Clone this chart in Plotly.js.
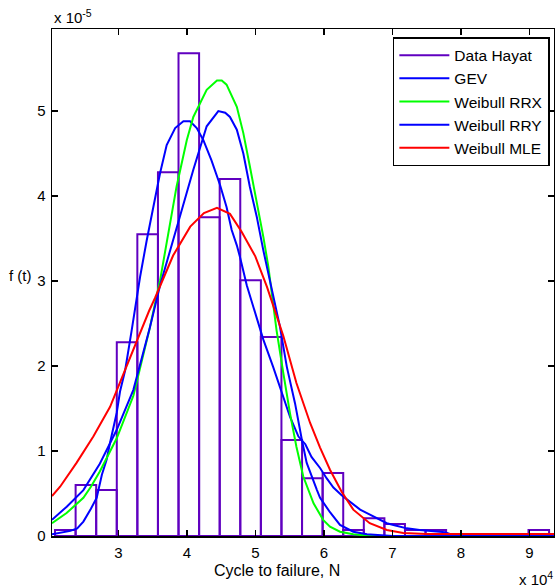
<!DOCTYPE html>
<html><head><meta charset="utf-8">
<script src="https://cdn.plot.ly/plotly-3.0.1.min.js"></script>
<style>html,body{margin:0;padding:0;background:#fff}#chart{width:555px;height:586px}</style>
</head><body><div id="chart"></div>
<script>
// x in units of 1e4 cycles, y in units of 1e-5
const binCenters = [2.226,2.527,2.827,3.128,3.428,3.729,4.029,4.330,4.630,4.931,5.231,5.532,5.832,6.133,6.433,6.734,7.034,7.335,7.635,7.936,8.236,8.537,8.837,9.138];
const binWidth = 0.3005;
const histDensity = [0.07,0.60,0.54,2.28,3.55,4.28,5.68,3.75,4.20,3.01,2.34,1.13,0.68,0.74,0.07,0.21,0.14,0.07,0.07,0,0,0,0,0.07];

const gevX = [2.032,2.15,2.30,2.40,2.49,2.60,2.685,2.76,2.83,2.88,2.977,3.025,3.10,3.195,3.277,3.318,3.415,3.51,3.61,3.706,3.83,3.95,4.047,4.145,4.24,4.36,4.485,4.58,4.655,4.73,4.777,4.875,5.0,5.117,5.26,5.385,5.507,5.63,5.73,5.82,5.945,6.04,6.14,6.26,6.38,6.53,6.63,6.77,6.92,7.06,7.21,7.40,7.60,7.77,7.89,8.0,9.36];
const gevY = [0.02,0.04,0.06,0.09,0.17,0.32,0.45,0.72,0.90,1.10,1.45,1.70,1.95,2.42,2.85,3.05,3.48,3.87,4.27,4.60,4.80,4.88,4.88,4.80,4.66,4.42,4.13,3.87,3.60,3.42,3.28,2.95,2.62,2.31,1.99,1.70,1.40,1.17,1.08,0.93,0.80,0.68,0.57,0.48,0.40,0.31,0.27,0.21,0.15,0.12,0.09,0.07,0.06,0.045,0.01,0,0];

const rrxX = [2.032,2.245,2.49,2.60,2.73,2.977,3.22,3.46,3.61,3.755,3.85,4.0,4.095,4.29,4.44,4.51,4.58,4.73,4.825,4.92,5.02,5.117,5.19,5.24,5.31,5.41,5.507,5.60,5.70,5.85,5.99,6.09,6.236,6.43,6.7,9.36];
const rrxY = [0.15,0.27,0.45,0.58,0.76,1.15,1.65,2.45,3.01,3.68,4.11,4.66,4.93,5.25,5.36,5.36,5.31,5.05,4.74,4.35,3.95,3.52,3.17,2.86,2.42,1.91,1.44,1.05,0.70,0.385,0.19,0.11,0.05,0.02,0,0];

const rryX = [2.032,2.247,2.49,2.73,2.977,3.22,3.46,3.61,3.85,4.095,4.29,4.46,4.56,4.63,4.73,4.825,4.92,5.02,5.117,5.215,5.26,5.36,5.46,5.58,5.68,5.75,5.90,5.945,6.09,6.236,6.43,6.63,7.0,9.36];
const rryY = [0.19,0.345,0.54,0.85,1.25,1.72,2.45,2.95,3.62,4.31,4.82,5.0,4.98,4.93,4.78,4.50,4.11,3.76,3.36,3.0,2.80,2.46,1.99,1.56,1.13,0.86,0.54,0.45,0.28,0.13,0.05,0.02,0,0];

const mleX = [2.032,2.15,2.39,2.635,2.88,3.00,3.27,3.45,3.536,3.80,4.05,4.25,4.44,4.63,4.80,5.00,5.17,5.41,5.60,5.80,5.945,6.09,6.26,6.43,6.67,6.92,7.16,7.5,9.36];
const mleY = [0.47,0.58,0.86,1.17,1.52,1.76,2.28,2.65,2.80,3.30,3.64,3.80,3.86,3.79,3.58,3.29,2.93,2.35,1.80,1.33,1.04,0.78,0.52,0.31,0.15,0.07,0.035,0.025,0.025];

const seriesNames = ['Data Hayat','GEV','Weibull RRX','Weibull RRY','Weibull MLE'];
const purple = 'rgb(96,0,192)';
const FONT = 'Liberation Sans, Arial, Helvetica, sans-serif';

const traces = [
  {type:'bar', x:binCenters, y:histDensity, width:binWidth, showlegend:false,
   marker:{color:'rgba(0,0,0,0)', line:{color:purple, width:2}}, hoverinfo:'skip'},
  {type:'scatter', mode:'lines', x:[null], y:[null], name:seriesNames[0], line:{color:purple, width:2}},
  {type:'scatter', mode:'lines', x:gevX, y:gevY, name:seriesNames[1], line:{color:'#0000ff', width:2}},
  {type:'scatter', mode:'lines', x:rrxX, y:rrxY, name:seriesNames[2], line:{color:'#00ff00', width:2}},
  {type:'scatter', mode:'lines', x:rryX, y:rryY, name:seriesNames[3], line:{color:'#0000ff', width:2}},
  {type:'scatter', mode:'lines', x:mleX, y:mleY, name:seriesNames[4], line:{color:'#ff0000', width:2}}
];

const axisCommon = {
  ticks:'inside', ticklen:6, tickwidth:1.5, tickcolor:'#000',
  showline:true, linecolor:'#000', linewidth:1.5, mirror:'allticks',
  showgrid:false, zeroline:false,
  tickfont:{family:FONT, size:15, color:'#000'}
};

const layout = {
  width:555, height:586,
  margin:{l:52, r:1, t:29, b:50, pad:0},
  paper_bgcolor:'#fff', plot_bgcolor:'#fff',
  font:{family:FONT, size:15, color:'#000'},
  bargap:0,
  xaxis:Object.assign({}, axisCommon, {range:[2.032,9.36], tick0:0, dtick:1, ticklabelstandoff:2}),
  yaxis:Object.assign({}, axisCommon, {range:[0,5.965], tick0:0, dtick:1, ticklabelstandoff:2}),
  legend:{x:0.679, y:0.984, xanchor:'left', yanchor:'top', bgcolor:'#fff',
          bordercolor:'#000', borderwidth:1.5, font:{family:FONT, size:15.5, color:'#000'},
          itemwidth:50, tracegroupgap:0},
  annotations:[
    {text:'x 10<sup>-5</sup>', xref:'paper', yref:'paper', x:0, y:1.001, xanchor:'left', yanchor:'bottom', showarrow:false, font:{family:FONT, size:15}},
    {text:'x 10<sup>4</sup>', xref:'paper', yref:'paper', x:1.002, y:-0.062, xanchor:'right', yanchor:'top', showarrow:false, font:{family:FONT, size:15}},
    {text:'Cycle to failure, N', xref:'paper', yref:'paper', x:0.449, y:-0.048, xanchor:'center', yanchor:'top', showarrow:false, font:{family:FONT, size:16}},
    {text:'f (t)', xref:'paper', yref:'paper', x:-0.062, y:0.513, xanchor:'center', yanchor:'middle', showarrow:false, font:{family:FONT, size:15}}
  ]
};

Plotly.newPlot('chart', traces, layout, {displayModeBar:false, staticPlot:true});
</script></body></html>
